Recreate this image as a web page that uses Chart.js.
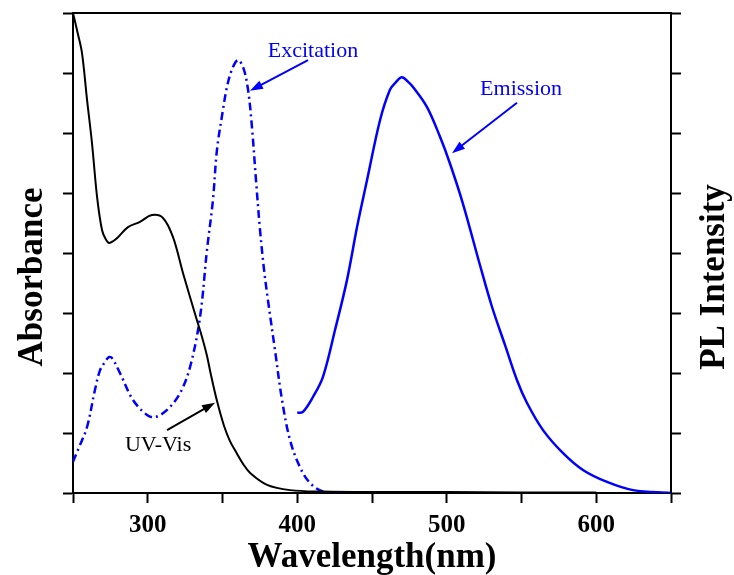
<!DOCTYPE html>
<html>
<head>
<meta charset="utf-8">
<script src="https://cdn.jsdelivr.net/npm/chart.js@4.4.1/dist/chart.umd.min.js"></script>
<style>
    html, body { margin: 0; padding: 0; background: #fff; }
    #wrap { width: 734px; height: 575px; position: relative; }
</style>
</head>
<body>
<div id="wrap"><canvas id="spectraChart"></canvas></div>
<script>
const SERIF = '"Liberation Serif", "Times New Roman", serif';

// UV-Vis absorbance (left axis, arbitrary units 0-100)
const uvVisWavelength = [250, 253, 256, 259.4, 262.7, 266.1, 269.4, 272, 274.1, 277, 280.1, 286.8, 294.8, 302.8,
    310.2, 316.9, 323.6, 332.9, 336.2, 339.6, 342, 346.3, 351, 355, 359.7, 363.9, 368.4, 379.8, 395.2, 417.2, 450, 500, 550, 600];
const uvVisAbsorbance = [100, 96, 91.7, 81.9, 72.9, 61.7, 54.8, 52.8, 52.1, 52.5, 53.3, 55.4, 56.5, 57.9,
    57.3, 53.3, 45.8, 36.0, 32.6, 28.6, 25, 19.2, 14, 10.8, 8.2, 6.0, 4.2, 1.7, 0.6, 0.3, 0.2, 0.2, 0.1, 0.1];

// PL excitation (right axis)
const excitationWavelength = [250, 254, 259.4, 264.7, 268, 271.4, 274, 276.1, 281.4, 290.1, 299.5, 304.8, 312.9, 321.6,
    328.3, 335, 339.6, 343.6, 346.3, 350.3, 353, 356.4, 360.4, 364, 367.1, 369.7, 372.4, 375.1, 377.8, 380.4,
    385.1, 389.8, 395.2, 401.8, 408.5, 417.2, 430, 450];
const excitationIntensity = [6.5, 9.5, 13.75, 21.5, 25.5, 27.3, 28.3, 28.1, 25, 19.4, 16.25, 15.8, 17.3, 20.8,
    26.25, 36.7, 50.6, 61, 71.5, 79.8, 84.6, 88.3, 90.2, 88.5, 84, 76.25, 65.2, 54.8, 46.5, 40.2,
    29.8, 19.4, 11, 5.4, 2.1, 0.3, 0.1, 0];

// PL emission (right axis)
const emissionWavelength = [400, 403.8, 410.5, 417.2, 425.3, 433.3, 440, 446.7, 455.4, 462, 466, 470, 474, 477.4,
    486.8, 495.5, 502.2, 510.9, 522.2, 530.3, 539, 547, 553.7, 564.4, 577.8, 591.1, 607.2, 624.6, 650];
const emissionIntensity = [16.7, 16.9, 20, 24.2, 34, 44.4, 55.4, 65.2, 77.7, 84, 85.6, 86.6, 85.7, 84.6,
    80.4, 74.2, 68.6, 60.2, 47.5, 38.75, 30.8, 23.5, 18.75, 13.1, 8.3, 4.8, 2.3, 0.6, 0];

const xTickValues = [300, 400, 500, 600];

// text labels with arrows, in data coordinates [wavelength, value]
const notes = [
    { text: 'Excitation', color: '#0000ff', axis: 'y2', at: [410.5, 92.0], from: [407.2, 90.2], to: [368.4, 83.8] },
    { text: 'Emission', color: '#0000ff', axis: 'y2', at: [549.7, 84.2], from: [547, 81.3], to: [503.5, 70.8] },
    { text: 'UV-Vis', color: '#000000', axis: 'y', at: [306.9, 10], from: [312.9, 13.1], to: [345, 18.8] }
];

function toPoints(xs, ys) {
    return xs.map((x, i) => ({ x: x, y: ys[i] }));
}

function drawArrow(ctx, x1, y1, x2, y2, color) {
    const ang = Math.atan2(y2 - y1, x2 - x1);
    const head = 13;
    ctx.strokeStyle = color;
    ctx.fillStyle = color;
    ctx.lineWidth = 2;
    ctx.beginPath();
    ctx.moveTo(x1, y1);
    ctx.lineTo(x2 - Math.cos(ang) * head * 0.8, y2 - Math.sin(ang) * head * 0.8);
    ctx.stroke();
    ctx.beginPath();
    ctx.moveTo(x2, y2);
    ctx.lineTo(x2 - head * Math.cos(ang) + 4.5 * Math.sin(ang), y2 - head * Math.sin(ang) - 4.5 * Math.cos(ang));
    ctx.lineTo(x2 - head * Math.cos(ang) - 4.5 * Math.sin(ang), y2 - head * Math.sin(ang) + 4.5 * Math.cos(ang));
    ctx.closePath();
    ctx.fill();
}

const notesPlugin = {
    id: 'spectraNotes',
    afterDraw(chart) {
        const { ctx, chartArea, scales } = chart;
        ctx.save();
        notes.forEach(n => {
            const ys = scales[n.axis];
            drawArrow(ctx,
                scales.x.getPixelForValue(n.from[0]), ys.getPixelForValue(n.from[1]),
                scales.x.getPixelForValue(n.to[0]), ys.getPixelForValue(n.to[1]), n.color);
            ctx.fillStyle = n.color;
            ctx.font = '22px ' + SERIF;
            ctx.textAlign = 'center';
            ctx.textBaseline = 'middle';
            ctx.fillText(n.text, scales.x.getPixelForValue(n.at[0]), ys.getPixelForValue(n.at[1]));
        });

        // axis titles; the vertical ones both read bottom to top
        ctx.fillStyle = '#000';
        ctx.font = 'bold 35px ' + SERIF;
        ctx.textAlign = 'center';
        ctx.textBaseline = 'middle';
        ctx.fillText('Wavelength(nm)', (chartArea.left + chartArea.right) / 2, chartArea.bottom + 65);

        const midY = (chartArea.top + chartArea.bottom) / 2 + 24;
        ctx.textBaseline = 'alphabetic';
        [['Absorbance', chartArea.left - 31], ['PL Intensity', chartArea.right + 53]].forEach(t => {
            ctx.save();
            ctx.translate(t[1], midY);
            ctx.rotate(-Math.PI / 2);
            ctx.fillText(t[0], 0, 0);
            ctx.restore();
        });
        ctx.restore();
    }
};

const sideAxis = (position) => ({
    type: 'linear',
    position: position,
    min: 0,
    max: 100,
    ticks: { display: false, stepSize: 12.5 },
    grid: { drawOnChartArea: false, drawTicks: true, tickLength: 10, tickWidth: 2, tickColor: '#000' },
    border: { display: true, color: '#000', width: 2 }
});

const ctx = document.getElementById('spectraChart').getContext('2d');
new Chart(ctx, {
    type: 'line',
    data: {
        datasets: [
            {
                label: 'UV-Vis',
                data: toPoints(uvVisWavelength, uvVisAbsorbance),
                yAxisID: 'y',
                borderColor: '#000000',
                borderWidth: 2,
                pointRadius: 0,
                tension: 0.35
            },
            {
                label: 'Excitation',
                data: toPoints(excitationWavelength, excitationIntensity),
                yAxisID: 'y2',
                borderColor: '#0000ff',
                borderWidth: 2.5,
                borderDash: [8, 4, 2, 4],
                pointRadius: 0,
                tension: 0.35
            },
            {
                label: 'Emission',
                data: toPoints(emissionWavelength, emissionIntensity),
                yAxisID: 'y2',
                borderColor: '#0000ff',
                borderWidth: 2.5,
                pointRadius: 0,
                tension: 0.35
            }
        ]
    },
    options: {
        responsive: true,
        maintainAspectRatio: false,
        animation: false,
        layout: { padding: { left: 63, right: 53, top: 13, bottom: 27 } },
        plugins: {
            legend: { display: false },
            tooltip: { enabled: false }
        },
        scales: {
            x: {
                type: 'linear',
                position: 'bottom',
                min: 250,
                max: 650,
                ticks: {
                    stepSize: 50,
                    autoSkip: false,
                    maxRotation: 0,
                    padding: 10,
                    color: '#000',
                    font: { family: SERIF, size: 25, weight: 'bold', lineHeight: 1 },
                    callback: v => xTickValues.includes(v) ? String(v) : ''
                },
                grid: { drawOnChartArea: false, drawTicks: true, tickLength: 10, tickWidth: 2, tickColor: '#000' },
                border: { display: true, color: '#000', width: 2 }
            },
            xTop: {
                type: 'linear',
                position: 'top',
                min: 250,
                max: 650,
                ticks: { display: false },
                grid: { display: false, drawTicks: false },
                border: { display: true, color: '#000', width: 2 }
            },
            y: sideAxis('left'),
            y2: sideAxis('right')
        }
    },
    plugins: [notesPlugin]
});
</script>
</body>
</html>
